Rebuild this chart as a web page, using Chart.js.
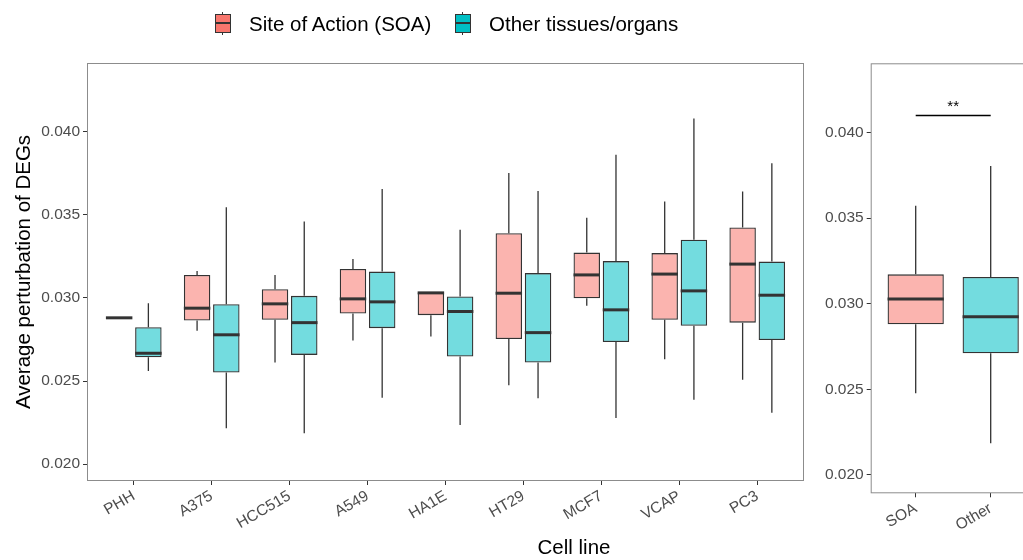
<!DOCTYPE html>
<html>
<head>
<meta charset="utf-8">
<script src="https://cdn.jsdelivr.net/npm/chart.js@4.4.0/dist/chart.umd.min.js"></script>
<style>
  html, body { margin:0; padding:0; background:#fff; overflow:hidden; }
  #wrap { position:relative; width:1023px; height:560px; overflow:hidden; font-family:'Liberation Sans', Arial, sans-serif; }
  #main { position:absolute; left:0; top:0; }
  #side { position:absolute; left:800px; top:0; }
  .key { position:absolute; top:12px; width:16px; height:23px; }
  .key .wh { position:absolute; left:7px; top:0; width:1.3px; height:23px; background:#333; }
  .key .bx { position:absolute; left:0; top:2px; width:14px; height:17px; border:1px solid #333; }
  .key .md { position:absolute; left:0; top:10px; width:16px; height:2px; background:#333; }
  .lab { position:absolute; top:12px; font-size:20.5px; line-height:24px; color:#000; white-space:nowrap; }
  #xtitle { position:absolute; left:474px; top:535px; width:200px; text-align:center; font-size:20.5px; line-height:24px; color:#000; }
</style>
</head>
<body>
<div id="wrap">
  <canvas id="main" width="812" height="560"></canvas>
  <canvas id="side" width="260" height="560"></canvas>
  <div class="key" style="left:215px"><div class="wh"></div><div class="bx" style="background:#F8766D"></div><div class="md"></div></div>
  <div class="lab" style="left:249px">Site of Action (SOA)</div>
  <div class="key" style="left:455px"><div class="wh"></div><div class="bx" style="background:#00BFC4"></div><div class="md"></div></div>
  <div class="lab" style="left:489px">Other tissues/organs</div>
  <div id="xtitle">Cell line</div>
</div>
<script>
// ================= Data =================
const cellLines = ['PHH', 'A375', 'HCC515', 'A549', 'HA1E', 'HT29', 'MCF7', 'VCAP', 'PC3'];

const soaMin = [0.02880, 0.02803, 0.02611, 0.02743, 0.02767, 0.02475, 0.02952, 0.02631, 0.02507];
const soaQ1  = [0.02880, 0.02864, 0.02868, 0.02906, 0.02896, 0.02752, 0.02998, 0.02868, 0.02851];
const soaMed = [0.02880, 0.02938, 0.02964, 0.02994, 0.03030, 0.03028, 0.03138, 0.03143, 0.03203];
const soaQ3  = [0.02880, 0.03138, 0.03052, 0.03174, 0.03032, 0.03389, 0.03272, 0.03269, 0.03423];
const soaMax = [0.02880, 0.03162, 0.03138, 0.03233, 0.03032, 0.03750, 0.03481, 0.03579, 0.03639];

const othMin = [0.02561, 0.02216, 0.02186, 0.02399, 0.02236, 0.02397, 0.02278, 0.02387, 0.02310];
const othQ1  = [0.02643, 0.02551, 0.02657, 0.02818, 0.02647, 0.02611, 0.02734, 0.02832, 0.02747];
const othMed = [0.02667, 0.02778, 0.02851, 0.02976, 0.02918, 0.02791, 0.02928, 0.03042, 0.03016];
const othQ3  = [0.02824, 0.02962, 0.03012, 0.03158, 0.03008, 0.03149, 0.03221, 0.03349, 0.03218];
const othMax = [0.02968, 0.03545, 0.03459, 0.03655, 0.03409, 0.03643, 0.03860, 0.04078, 0.03810];

// pooled panel
const groups    = ['SOA', 'Other'];
const poolMin   = [0.02477, 0.02185];
const poolQ1    = [0.02880, 0.02711];
const poolMed   = [0.03028, 0.02925];
const poolQ3    = [0.03172, 0.03157];
const poolMax   = [0.03573, 0.03805];
const sigY      = 0.0410;
const sigLabel  = '**';

const yTicks = [0.020, 0.025, 0.030, 0.035, 0.040];

// ================= Style =================
const SOA_FILL = 'rgba(248,118,109,0.55)';
const OTH_FILL = 'rgba(0,191,196,0.55)';
const LINE = '#333333';
const FONT = "'Liberation Sans', Arial, sans-serif";

Chart.defaults.font.family = FONT;
Chart.defaults.animation = false;

// whiskers + medians on top of the floating bars
const boxPlugin = {
  id: 'boxes',
  afterDatasetsDraw(chart) {
    const ctx = chart.ctx;
    const y = chart.scales.y;
    chart.data.datasets.forEach((ds, di) => {
      const meta = chart.getDatasetMeta(di);
      meta.data.forEach((bar, i) => {
        const { x, width } = bar.getProps(['x', 'width'], true);
        const yq1 = y.getPixelForValue(ds.data[i].y[0]);
        const yq3 = y.getPixelForValue(ds.data[i].y[1]);
        ctx.save();
        ctx.strokeStyle = LINE;
        ctx.lineWidth = 1.3;
        ctx.beginPath();
        ctx.moveTo(x, yq3); ctx.lineTo(x, y.getPixelForValue(ds.hi[i]));
        ctx.moveTo(x, yq1); ctx.lineTo(x, y.getPixelForValue(ds.lo[i]));
        ctx.stroke();
        ctx.lineWidth = 3;
        const ym = y.getPixelForValue(ds.mid[i]);
        ctx.beginPath();
        ctx.moveTo(x - width / 2, ym); ctx.lineTo(x + width / 2, ym);
        ctx.stroke();
        ctx.restore();
      });
    });
  }
};

const panelBorder = {
  id: 'panelBorder',
  afterDraw(chart) {
    const a = chart.chartArea;
    const ctx = chart.ctx;
    ctx.save();
    ctx.strokeStyle = '#8c8c8c';
    ctx.lineWidth = 1;
    ctx.strokeRect(a.left + 0.5, a.top + 0.5, a.right - a.left - 1, a.bottom - a.top - 1);
    ctx.restore();
  }
};

function yAxis(min, max, width, title) {
  return {
    type: 'linear', min, max,
    afterBuildTicks: s => { s.ticks = yTicks.map(v => ({ value: v })); },
    afterFit: s => { s.width = width; },
    ticks: { callback: v => v.toFixed(3), color: '#4D4D4D', font: { size: 15.5 }, padding: 3 },
    grid: { drawOnChartArea: false, tickLength: 4, tickColor: LINE, color: LINE },
    border: { display: false },
    title: title ? { display: true, text: title, color: '#000', font: { size: 20.5 }, padding: { top: 12, bottom: 0 } } : { display: false }
  };
}

function xAxis(labels, height) {
  return {
    type: 'linear', min: -0.6, max: labels.length - 0.4,
    offset: false,
    afterBuildTicks: s => { s.ticks = labels.map((l, i) => ({ value: i })); },
    afterFit: s => { s.height = height; },
    ticks: { callback: v => labels[v], color: '#4D4D4D', font: { size: 15.5 }, minRotation: 30, maxRotation: 30, autoSkip: false, padding: 2 },
    grid: { offset: false, drawOnChartArea: false, tickLength: 4, tickColor: LINE, color: LINE },
    border: { display: false }
  };
}

// ================= Main panel =================
new Chart(document.getElementById('main'), {
  type: 'bar',
  data: {
    datasets: [
      {
        label: 'Site of Action (SOA)',
        data: cellLines.map((c, i) => ({ x: i, y: [soaQ1[i], soaQ3[i]] })),
        lo: soaMin, mid: soaMed, hi: soaMax,
        backgroundColor: SOA_FILL, borderColor: LINE, borderWidth: 1.3, borderSkipped: false
      },
      {
        label: 'Other tissues/organs',
        data: cellLines.map((c, i) => ({ x: i, y: [othQ1[i], othQ3[i]] })),
        lo: othMin, mid: othMed, hi: othMax,
        backgroundColor: OTH_FILL, borderColor: LINE, borderWidth: 1.3, borderSkipped: false
      }
    ]
  },
  options: {
    responsive: false,
    categoryPercentage: 0.75,
    barPercentage: 0.906,
    layout: { padding: { top: 63, right: 8, bottom: 0, left: 0 } },
    plugins: { legend: { display: false }, tooltip: { enabled: false } },
    scales: {
      x: xAxis(cellLines, 79),
      y: yAxis(0.01899, 0.04412, 87, 'Average perturbation of DEGs')
    }
  },
  plugins: [boxPlugin, panelBorder]
});

// ================= Pooled panel =================
const sigPlugin = {
  id: 'sig',
  afterDatasetsDraw(chart) {
    const { ctx, scales: { x, y } } = chart;
    const py = y.getPixelForValue(sigY);
    ctx.save();
    ctx.strokeStyle = '#000';
    ctx.lineWidth = 1.3;
    ctx.beginPath();
    ctx.moveTo(x.getPixelForValue(0), py);
    ctx.lineTo(x.getPixelForValue(1), py);
    ctx.stroke();
    ctx.fillStyle = '#000';
    ctx.font = '15px ' + FONT;
    ctx.textAlign = 'center';
    ctx.textBaseline = 'alphabetic';
    ctx.fillText(sigLabel, (x.getPixelForValue(0) + x.getPixelForValue(1)) / 2, py - 5);
    ctx.restore();
  }
};

new Chart(document.getElementById('side'), {
  type: 'bar',
  data: {
    datasets: [{
      data: groups.map((g, i) => ({ x: i, y: [poolQ1[i], poolQ3[i]] })),
      lo: poolMin, mid: poolMed, hi: poolMax,
      backgroundColor: [SOA_FILL, OTH_FILL], borderColor: LINE, borderWidth: 1.3, borderSkipped: false
    }]
  },
  options: {
    responsive: false,
    categoryPercentage: 0.75,
    barPercentage: 1,
    layout: { padding: { top: 63.3, right: 24.3, bottom: 0, left: 0 } },
    plugins: { legend: { display: false }, tooltip: { enabled: false } },
    scales: {
      x: xAxis(groups, 66.7),
      y: yAxis(0.01893, 0.04405, 70.7, null)
    }
  },
  plugins: [boxPlugin, panelBorder, sigPlugin]
});
</script>
</body>
</html>
